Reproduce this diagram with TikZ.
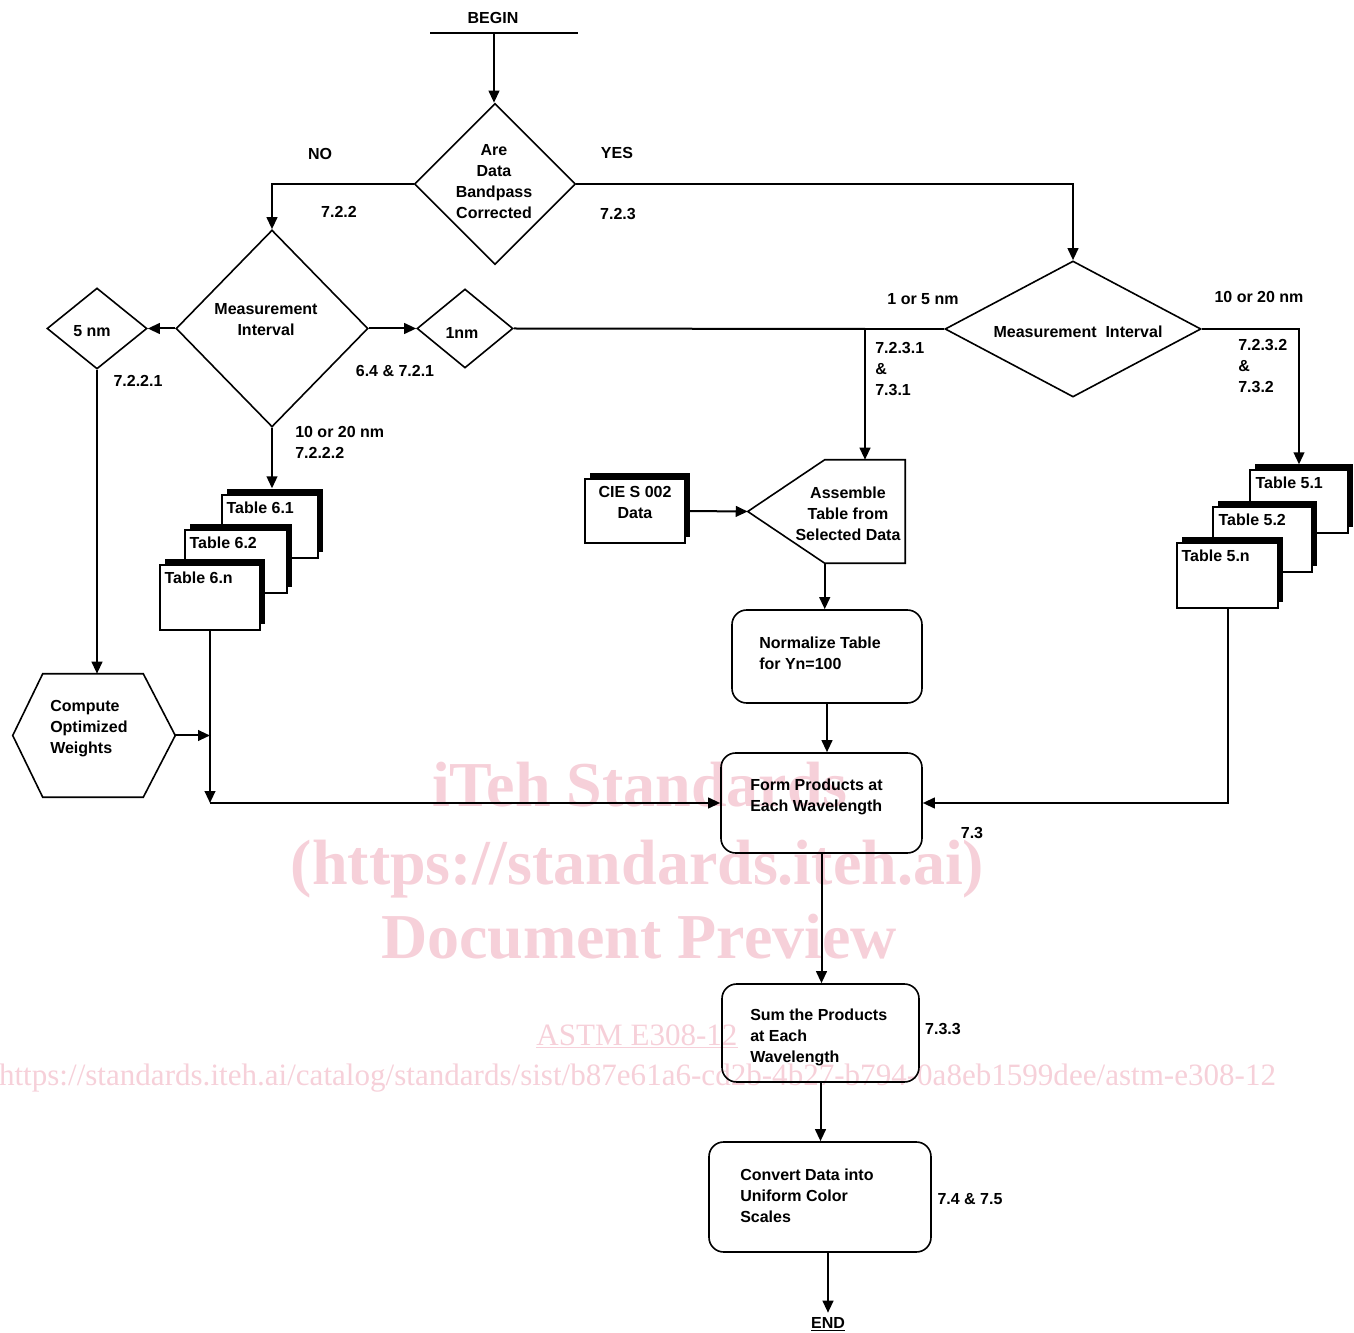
\documentclass[tikz,border=0pt]{standalone}
\usepackage{fontspec}
\usepackage{graphicx}
\setmainfont{Liberation Sans}
\newfontfamily\wmfont{Liberation Serif}
\usetikzlibrary{arrows.meta,shapes.geometric,shadows,calc}
\definecolor{wm}{RGB}{246,208,217}
\def\pxu{0.75pt}
\begin{document}
\begin{tikzpicture}[x=0.75pt,y=-0.75pt,
  every node/.style={font=\bfseries\fontsize{12}{15.75}\selectfont, inner sep=0pt},
  ln/.style={line width=1.5pt},
  arr/.style={line width=1.5pt,-{Triangle[length=9pt,width=8pt]}},
  dia/.style={diamond, draw, line width=1.2pt},
  rbox/.style={draw, rounded corners=11pt, line width=1.2pt},
  tbl/.style={draw, fill=white, line width=1pt,
    drop shadow={shadow xshift=3.75pt, shadow yshift=4.5pt, fill=black, opacity=1}},
  wmbig/.style={font=\wmfont\bfseries\fontsize{48}{48}\selectfont, text=wm, anchor=base},
  wmsmall/.style={font=\wmfont\fontsize{23.3}{24}\selectfont, text=wm, anchor=base}]
\useasboundingbox (0,0) rectangle (1354,1333);

% watermark
\node[wmbig] (wm1) at (640,806) {iTeh Standards};
\node[wmbig] (wm2) at (637.5,884) {(https://standards.iteh.ai)};
\node[wmbig] (wm3) at (639,958) {Document Preview};
\node[wmsmall] (wm4) at (637,1045) {\underline{ASTM E308-12}};
\node[wmsmall] (wm5) at (637.5,1085) {https://standards.iteh.ai/catalog/standards/sist/b87e61a6-cd2b-4b27-b794-0a8eb1599dee/astm-e308-12};

% begin
\node (begin) at (493,18) {BEGIN};
\coordinate (bl) at (430,33);
\coordinate (br) at (578,33);
\coordinate (bs) at (494,33);
\draw[ln] (bl) -- (br);

% decision 1
\node[dia, minimum width=161*\pxu, minimum height=161*\pxu] (d1) at (495,184) {};
\node[align=center] (d1t) at (494,182) {Are\\Data\\Bandpass\\Corrected};
\draw[arr] (bs) -- (bs |- d1.north);

% left measurement interval
\node[dia, minimum width=192*\pxu, minimum height=197*\pxu] (d2) at (272,328.5) {};
\node[align=center] (d2t) at (266,320) {Measurement\\Interval};
\draw[arr] (d1.west) -| (d2.north);

\node[dia, minimum width=100*\pxu, minimum height=81*\pxu] (d5) at (97,328.5) {};
\node (d5t) at (92,331) {5 nm};
\draw[arr] (d2.west) -- (d5.east);

\node[dia, minimum width=96*\pxu, minimum height=79*\pxu] (d1nm) at (465,328.5) {};
\node (d1nmt) at (462,333) {1nm};
\draw[arr] (d2.east) -- (d1nm.west);

% right measurement interval
\node[dia, minimum width=256*\pxu, minimum height=136*\pxu] (d3) at (1073,329) {};
\node (d3t) at (1078,332) {Measurement~ Interval};
\draw[arr] (d1.east) -| (d3.north);

% tables 6
\node[tbl, minimum width=96*\pxu, minimum height=63*\pxu] (t61) at (270,526.5) {};
\node[anchor=north west] (t61l) at ($(t61.north west)+(5,7)$) {Table 6.1};
\node[tbl, minimum width=102*\pxu, minimum height=63*\pxu] (t62) at (236,561.5) {};
\node[anchor=north west] (t62l) at ($(t62.north west)+(5,7)$) {Table 6.2};
\node[tbl, minimum width=100*\pxu, minimum height=65*\pxu] (t6n) at (210,597.5) {};
\node[anchor=north west] (t6nl) at ($(t6n.north west)+(5,7)$) {Table 6.n};
\draw[arr] (d2.south) -- ($(d2.south |- t61.north)+(0,-6)$);

% tables 5
\node[tbl, minimum width=98*\pxu, minimum height=63*\pxu] (t51) at (1299,501.5) {};
\node[anchor=north west] (t51l) at ($(t51.north west)+(6,7)$) {Table 5.1};
\node[tbl, minimum width=99*\pxu, minimum height=65*\pxu] (t52) at (1262.5,539.5) {};
\node[anchor=north west] (t52l) at ($(t52.north west)+(6,7)$) {Table 5.2};
\node[tbl, minimum width=101*\pxu, minimum height=65*\pxu] (t5n) at (1227.5,575.5) {};
\node[anchor=north west] (t5nl) at ($(t5n.north west)+(5,7)$) {Table 5.n};
\draw[arr] (d3.east) -| ($(t51.north)+(0,-5)$);

% CIE data and assemble
\node[tbl, minimum width=100*\pxu, minimum height=64*\pxu] (cie) at (635,511) {};
\node[align=center] (ciet) at (635,502) {CIE S 002\\Data};
\node[minimum width=157*\pxu, minimum height=103*\pxu] (asm) at (826.5,511.5) {};
\draw[line width=1.2pt] (asm.west) -- ($(asm.north west)+(77,0)$) -- (asm.north east)
  -- (asm.south east) -- ($(asm.south west)+(77,0)$) -- cycle;
\node[align=center] (asmt) at (848,514) {Assemble\\Table from\\Selected Data};
\draw[arr] (cie.east) -- (asm.west);
\coordinate (j) at (865,329);
\draw[ln] (d1nm.east) -- (j);
\draw[arr] (d3.west) -- (j) -- (j |- asm.north);
\coordinate (asmb) at ($(asm.south west)+(77,0)$);

% process boxes
\node[rbox, minimum width=190*\pxu, minimum height=93*\pxu] (norm) at (827,656.5) {};
\node[anchor=west, align=left] (normt) at (759,653.5) {Normalize Table\\for Yn=100};
\draw[arr] (asmb) -- (asmb |- norm.north);

\node[rbox, minimum width=201*\pxu, minimum height=100*\pxu] (form) at (821.5,803) {};
\node[anchor=west, align=left] (formt) at (750,796.5) {Form Products at\\Each Wavelength};
\draw[arr] (norm.south) -- (norm.south |- form.north);

\node[rbox, minimum width=197*\pxu, minimum height=98*\pxu] (sum) at (820.5,1033) {};
\node[anchor=west, align=left] (sumt) at (750,1037.5) {Sum the Products\\at Each\\Wavelength};
\draw[arr] (form.south) -- (form.south |- sum.north);

\node[rbox, minimum width=222*\pxu, minimum height=110*\pxu] (conv) at (820,1197) {};
\node[anchor=west, align=left] (convt) at (740,1195.5) {Convert Data into\\Uniform Color\\Scales};
\draw[arr] (sum.south) -- (sum.south |- conv.north);

\node[anchor=base] (endn) at (828,1328) {\underline{END}};
\draw[arr] (conv.south -| endn.north) -- ($(endn.north)+(0,-4)$);

% hexagon
\node[minimum width=162*\pxu, minimum height=123*\pxu] (hex) at (94,735.5) {};
\draw[line width=1.2pt] (hex.west) -- ($(hex.north west)+(30,0)$) -- ($(hex.north east)+(-32,0)$)
  -- (hex.east) -- ($(hex.south east)+(-32,0)$) -- ($(hex.south west)+(30,0)$) -- cycle;
\node[anchor=west, align=left] (hext) at (50,728.5) {Compute\\Optimized\\Weights};
\draw[arr] (d5.south) -- (d5.south |- hex.north);

% joins into form products
\coordinate (cor) at (t6n.south |- form.west);
\draw[arr] (t6n.south) -- (cor);
\draw[arr] (cor) -- (form.west);
\draw[arr] (hex.east) -- (hex.east -| cor);
\draw[arr] (t5n.south) |- (form.east);

% labels
\node (lno) at (320,154) {NO};
\node (lyes) at (617,153) {YES};
\node (l722) at (339,212) {7.2.2};
\node (l723) at (618,214) {7.2.3};
\node (l7221) at (138,381) {7.2.2.1};
\node (l64) at (395,371) {6.4 \& 7.2.1};
\node[anchor=west, align=left] (l1020a) at (295,442) {10 or 20 nm\\7.2.2.2};
\node (l15) at (923,299) {1 or 5 nm};
\node (l1020b) at (1259,297) {10 or 20 nm};
\node[anchor=west, align=left] (l7231) at (875,369) {7.2.3.1\\\&\\7.3.1};
\node[anchor=west, align=left] (l7232) at (1238,366) {7.2.3.2\\\&\\7.3.2};
\node (l73) at (972,833) {7.3};
\node (l733) at (943,1029) {7.3.3};
\node (l745) at (970,1199) {7.4 \& 7.5};
\end{tikzpicture}
\end{document}
